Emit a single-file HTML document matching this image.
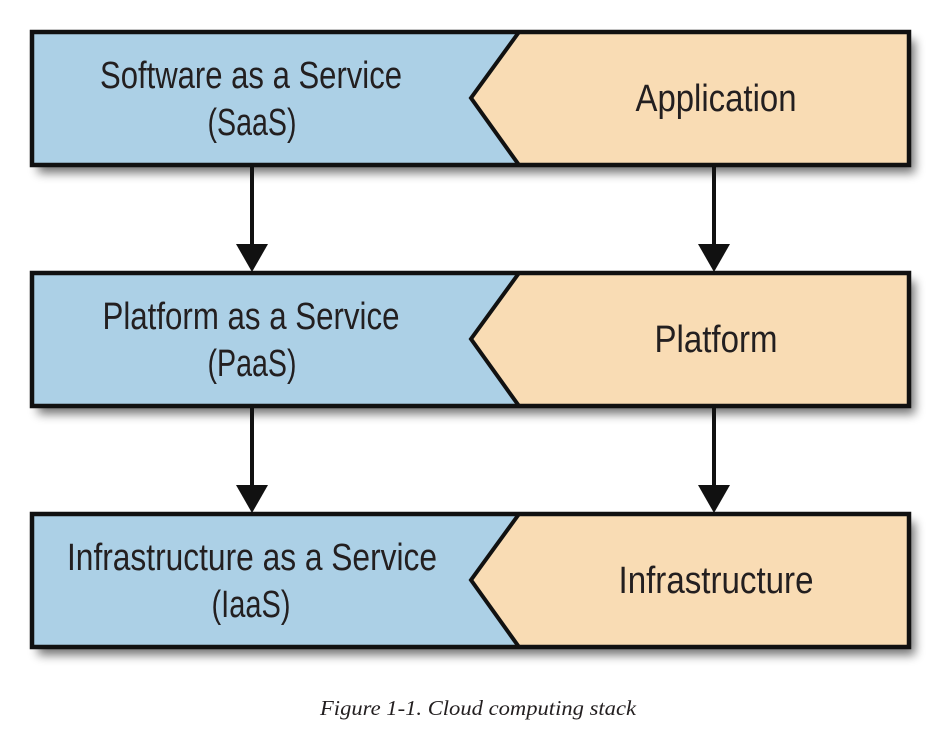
<!DOCTYPE html>
<html><head><meta charset="utf-8"><style>
html,body{margin:0;padding:0;background:#fff;}
svg{display:block;}
.t{font-family:"Liberation Sans Narrow","Liberation Sans",sans-serif;font-size:38px;fill:#231f20;text-anchor:middle;}
</style></head><body>
<svg width="926" height="733" viewBox="0 0 926 733" xmlns="http://www.w3.org/2000/svg">
<defs>
<filter id="sh" x="-5%" y="-10%" width="115%" height="140%">
<feGaussianBlur in="SourceAlpha" stdDeviation="5"/>
<feOffset dx="6" dy="8" result="b"/>
<feComponentTransfer><feFuncA type="linear" slope="0.55"/></feComponentTransfer>
<feMerge><feMergeNode/><feMergeNode in="SourceGraphic"/></feMerge>
</filter>
</defs>
<g id="rows">
<g transform="translate(0,0)">
<rect x="32" y="32" width="877" height="133" fill="#000" filter="url(#sh)"/>
<rect x="32" y="32" width="877" height="133" fill="#acd0e6"/>
<polygon points="519,32 909,32 909,165 519,165 471,98" fill="#f9dcb4"/>
<polyline points="519,32 471,98 519,165" fill="none" stroke="#111" stroke-width="4"/>
<rect x="32" y="32" width="877" height="133" fill="none" stroke="#111" stroke-width="4.5"/>
</g>
<g transform="translate(0,241)">
<rect x="32" y="32" width="877" height="133" fill="#000" filter="url(#sh)"/>
<rect x="32" y="32" width="877" height="133" fill="#acd0e6"/>
<polygon points="519,32 909,32 909,165 519,165 471,98" fill="#f9dcb4"/>
<polyline points="519,32 471,98 519,165" fill="none" stroke="#111" stroke-width="4"/>
<rect x="32" y="32" width="877" height="133" fill="none" stroke="#111" stroke-width="4.5"/>
</g>
<g transform="translate(0,482)">
<rect x="32" y="32" width="877" height="133" fill="#000" filter="url(#sh)"/>
<rect x="32" y="32" width="877" height="133" fill="#acd0e6"/>
<polygon points="519,32 909,32 909,165 519,165 471,98" fill="#f9dcb4"/>
<polyline points="519,32 471,98 519,165" fill="none" stroke="#111" stroke-width="4"/>
<rect x="32" y="32" width="877" height="133" fill="none" stroke="#111" stroke-width="4.5"/>
</g>
</g>
<g stroke="#111" stroke-width="4">
<line x1="252" y1="167" x2="252" y2="248"/>
<line x1="714" y1="167" x2="714" y2="248"/>
<line x1="252" y1="408" x2="252" y2="489"/>
<line x1="714" y1="408" x2="714" y2="489"/>
</g>
<g fill="#111">
<polygon points="236,244 268,244 252,272"/>
<polygon points="698,244 730,244 714,272"/>
<polygon points="236,485 268,485 252,513"/>
<polygon points="698,485 730,485 714,513"/>
</g>
<text class="t" x="251" y="88" textLength="302" lengthAdjust="spacingAndGlyphs">Software as a Service</text>
<text class="t" x="252" y="135" textLength="89" lengthAdjust="spacingAndGlyphs">(SaaS)</text>
<text class="t" x="716" y="111" textLength="161" lengthAdjust="spacingAndGlyphs">Application</text>
<text class="t" x="251" y="329" textLength="297" lengthAdjust="spacingAndGlyphs">Platform as a Service</text>
<text class="t" x="252" y="376" textLength="89" lengthAdjust="spacingAndGlyphs">(PaaS)</text>
<text class="t" x="716" y="352" textLength="123" lengthAdjust="spacingAndGlyphs">Platform</text>
<text class="t" x="252" y="570" textLength="370" lengthAdjust="spacingAndGlyphs">Infrastructure as a Service</text>
<text class="t" x="251" y="617" textLength="79" lengthAdjust="spacingAndGlyphs">(IaaS)</text>
<text class="t" x="716" y="593" textLength="195" lengthAdjust="spacingAndGlyphs">Infrastructure</text>
<text x="478" y="715" font-family="'Liberation Serif',serif" font-style="italic" font-size="21" fill="#231f20" text-anchor="middle" textLength="316" lengthAdjust="spacingAndGlyphs">Figure 1-1. Cloud computing stack</text>
</svg>
</body></html>
